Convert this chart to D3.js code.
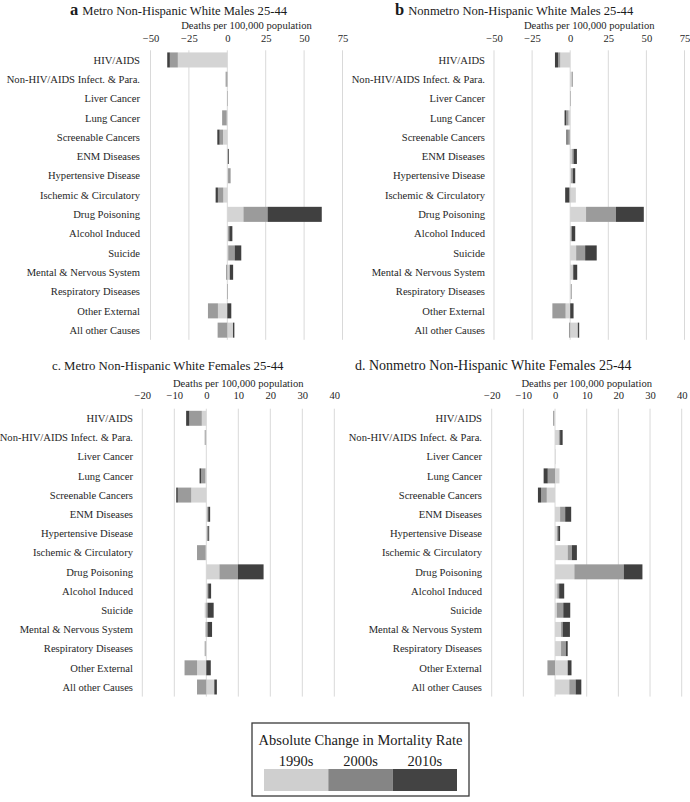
<!DOCTYPE html>
<html><head><meta charset="utf-8">
<script src="https://cdn.jsdelivr.net/npm/d3@7"></script>
<style>html,body{margin:0;padding:0;background:#fff;}svg{display:block;font-family:"Liberation Serif","Times New Roman",serif;}</style>
</head><body>
<script>
const categories = ["HIV/AIDS","Non-HIV/AIDS Infect. & Para.","Liver Cancer","Lung Cancer","Screenable Cancers","ENM Diseases","Hypertensive Disease","Ischemic & Circulatory","Drug Poisoning","Alcohol Induced","Suicide","Mental & Nervous System","Respiratory Diseases","Other External","All other Causes"];
const decades = ["1990s","2000s","2010s"];

// a. Metro NH White Males 25-44
const a1990 = [-32.2,-0.3,0.1,-0.4,-2.8,0.2,0.5,-2.6,10.5,0.5,0.6,1.6,-0.2,-6.1,3.7];
const a2000 = [-5.2,-0.8,0.1,-2.4,-2.2,0.4,1.3,-3.5,15.7,0.8,4.2,-0.8,0.2,-6.5,-6.3];
const a2010 = [-1.7,0.1,0.1,-0.3,-1.5,0.5,0.2,-1.5,35.3,2.0,4.3,2.2,0.1,2.6,0.9];
// b. Nonmetro NH White Males 25-44
const b1990 = [-6.5,1.0,0.3,-1.1,-0.3,1.3,0.6,3.7,10.4,0.3,3.9,1.7,0.5,-3.0,5.0];
const b2000 = [-1.5,0.6,0.1,-1.5,-1.5,0.9,1.1,-0.7,19.6,0.7,5.9,0.3,0.2,-8.7,-0.8];
const b2010 = [-2.0,0.1,0.1,-1.1,-0.7,2.2,1.6,-2.6,18.3,2.3,7.6,2.6,0.2,2.2,0.9];
// c. Metro NH White Females 25-44
const c1990 = [-1.4,-0.2,0,-0.3,-4.7,0.3,0.2,-0.2,4.1,0.3,-0.5,-0.4,-0.2,-2.9,2.5];
const c2000 = [-3.9,-0.3,0,-1.3,-4.2,0.3,0.4,-2.7,5.8,0.3,0.4,0.4,-0.3,-3.9,-2.9];
const c2010 = [-1.0,0,0,-0.5,-0.5,0.6,0.3,0,8.0,0.9,1.9,1.4,0,1.4,0.8];
// d. Nonmetro NH White Females 25-44
const d1990 = [-0.3,1.2,0.2,1.4,-2.6,1.6,0.6,4.0,6.1,0.7,0.6,1.9,1.9,4.0,4.5];
const d2000 = [-0.3,0.4,0,-2.3,-1.8,1.6,0.4,1.3,15.6,0.6,2.0,0.5,1.5,-2.4,2.0];
const d2010 = [0,0.8,0,-1.3,-1.0,1.9,0.6,1.6,5.9,1.6,2.2,2.3,0.6,1.2,1.8];

const maleTicks = [-50,-25,0,25,50,75];
const femaleTicks = [-20,-10,0,10,20,30,40];
const axisTitle = "Deaths per 100,000 population";
const legendTitle = "Absolute Change in Mortality Rate";

const barColors = ["#d4d4d4","#9b9b9b","#404040"];
const legendColors = ["#cfcfcf","#858585","#434343"];

const panels = [
  {letter:"a", title:"Metro Non-Hispanic White Males 25-44", boldLetter:true, tx:70, ty:15, ts:12.6,
   labelRight:140, range:[150.5,342.5], ticks:maleTicks, gTop:50.3, gBot:339.8, atY:28.5, tkY:41.5,
   series:[a1990,a2000,a2010]},
  {letter:"b", title:"Nonmetro Non-Hispanic White Males 25-44", boldLetter:true, tx:395, ty:15, ts:12.6,
   labelRight:485, range:[494,684.5], ticks:maleTicks, gTop:50.3, gBot:339.8, atY:28.5, tkY:41.5,
   series:[b1990,b2000,b2010]},
  {letter:"c.", title:"Metro Non-Hispanic White Females 25-44", boldLetter:false, tx:52, ty:370, ts:12.8,
   labelRight:133, range:[142.3,334.3], ticks:femaleTicks, gTop:408.7, gBot:696.6, atY:387, tkY:399,
   series:[c1990,c2000,c2010]},
  {letter:"d.", title:"Nonmetro Non-Hispanic White Females 25-44", boldLetter:false, tx:355, ty:370, ts:14,
   labelRight:482, range:[491.7,681.7], ticks:femaleTicks, gTop:408.7, gBot:696.6, atY:387, tkY:399,
   series:[d1990,d2000,d2010]}
];

const svg = d3.select("body").append("svg").attr("width",690).attr("height",802);

panels.forEach(p => {
  const g = svg.append("g");
  const x = d3.scaleLinear().domain(d3.extent(p.ticks)).range(p.range);
  const y = d3.scaleBand().domain(categories).range([p.gTop,p.gBot]).paddingInner(0.22).paddingOuter(0.11);

  // title
  const t = g.append("text").attr("x",p.tx).attr("y",p.ty).attr("fill","#1a1a1a");
  if (p.boldLetter) {
    t.append("tspan").attr("font-weight","bold").attr("font-size",16.5).text(p.letter);
    t.append("tspan").attr("font-size",p.ts).attr("dx",4).text(p.title);
  } else {
    t.attr("font-size",p.ts).text(p.letter + " " + p.title);
  }

  // axis title
  g.append("text").attr("x",(p.range[0]+p.range[1])/2).attr("y",p.atY)
    .attr("text-anchor","middle").attr("font-size",10.6).attr("fill","#262626").text(axisTitle);

  // gridlines
  g.append("g").selectAll("line").data(p.ticks).join("line")
    .attr("x1",d=>x(d)).attr("x2",d=>x(d)).attr("y1",p.gTop).attr("y2",p.gBot)
    .attr("stroke","#d9d9d9").attr("stroke-width",1);

  // tick labels
  const ax = g.append("g").attr("transform",`translate(0,${p.tkY})`)
    .call(d3.axisTop(x).tickValues(p.ticks).tickSize(0).tickPadding(0).tickFormat(d3.format("d")));
  ax.select(".domain").remove();
  ax.attr("font-family",null);
  ax.selectAll("text").attr("font-family","Liberation Serif, serif").attr("font-size",10.6).attr("fill","#262626").attr("dy",0);

  // category labels
  g.append("g").selectAll("text").data(categories).join("text")
    .attr("x",p.labelRight).attr("y",d=>y(d)+y.bandwidth()/2).attr("dy","0.35em")
    .attr("text-anchor","end").attr("font-size",10.6).attr("fill","#262626").text(d=>d);

  // stacked diverging bars
  const rows = categories.map((c,i)=>{const o={cat:c}; decades.forEach((k,j)=>o[k]=p.series[j][i]); return o;});
  const stacked = d3.stack().keys(decades).offset(d3.stackOffsetDiverging)(rows);
  g.append("g").selectAll("g").data(stacked).join("g").attr("fill",(d,i)=>barColors[i])
    .selectAll("rect").data(d=>d).join("rect")
    .attr("x",d=>x(Math.min(d[0],d[1]))).attr("width",d=>Math.abs(x(d[1])-x(d[0])))
    .attr("y",d=>y(d.data.cat)).attr("height",y.bandwidth());
});

// legend
const lg = svg.append("g");
lg.append("rect").attr("x",252).attr("y",723).attr("width",217).attr("height",73)
  .attr("fill","#fff").attr("stroke","#3a3a3a").attr("stroke-width",1.3);
lg.append("text").attr("x",360.5).attr("y",745).attr("text-anchor","middle").attr("font-size",14.5).attr("fill","#1a1a1a").text(legendTitle);
const lx = d3.scaleBand().domain(decades).range([264,457]);
lg.selectAll(".yr").data(decades).join("text").attr("class","yr")
  .attr("x",d=>lx(d)+lx.bandwidth()/2).attr("y",766).attr("text-anchor","middle").attr("font-size",14.5).attr("fill","#1a1a1a").text(d=>d);
lg.selectAll(".sw").data(decades).join("rect").attr("class","sw")
  .attr("x",d=>lx(d)).attr("y",769).attr("width",lx.bandwidth()).attr("height",22)
  .attr("fill",(d,i)=>legendColors[i]);
</script>
</body></html>
